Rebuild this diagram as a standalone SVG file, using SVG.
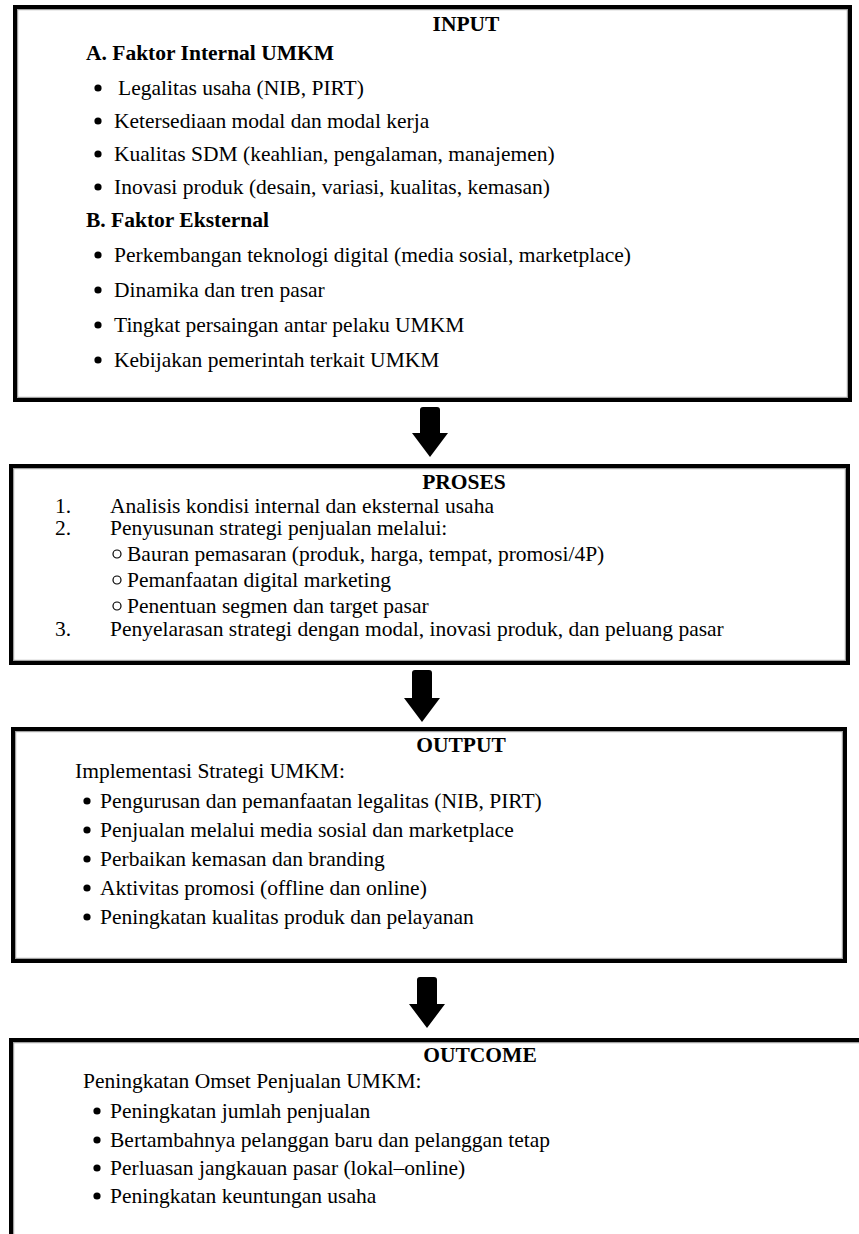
<svg xmlns="http://www.w3.org/2000/svg" width="859" height="1234" viewBox="0 0 859 1234">
<style>
  .box{fill:#fff;stroke:#000;stroke-width:4}
  .shade{fill:none;stroke:#a0a0a0;stroke-width:1.2}
  .t{font-family:"Liberation Serif","Times New Roman",serif;font-size:21.5px;fill:#000}
  .b{font-weight:bold}
  .c{text-anchor:middle}
  .dot{fill:#000}
  .ring{fill:none;stroke:#000;stroke-width:1.2}
  .arrow{fill:#000}
</style>
<rect width="859" height="1234" fill="#fff"/>

<g id="input">
  <rect class="box" x="15" y="7" width="835" height="393"/>
  <rect class="shade" x="17.6" y="9.6" width="829.8" height="387.8"/>
  <text class="t b c" x="466" y="31">INPUT</text>
  <text class="t b" x="86" y="60">A. Faktor Internal UMKM</text>
  <circle class="dot" cx="98" cy="88" r="3.6"/><text class="t" x="118" y="95">Legalitas usaha (NIB, PIRT)</text>
  <circle class="dot" cx="98" cy="121" r="3.6"/><text class="t" x="114" y="128">Ketersediaan modal dan modal kerja</text>
  <circle class="dot" cx="98" cy="154" r="3.6"/><text class="t" x="114" y="161">Kualitas SDM (keahlian, pengalaman, manajemen)</text>
  <circle class="dot" cx="98" cy="187" r="3.6"/><text class="t" x="114" y="194">Inovasi produk (desain, variasi, kualitas, kemasan)</text>
  <text class="t b" x="86" y="227">B. Faktor Eksternal</text>
  <circle class="dot" cx="98" cy="255" r="3.6"/><text class="t" x="114" y="262">Perkembangan teknologi digital (media sosial, marketplace)</text>
  <circle class="dot" cx="98" cy="290" r="3.6"/><text class="t" x="114" y="297">Dinamika dan tren pasar</text>
  <circle class="dot" cx="98" cy="325" r="3.6"/><text class="t" x="114" y="332">Tingkat persaingan antar pelaku UMKM</text>
  <circle class="dot" cx="98" cy="360" r="3.6"/><text class="t" x="114" y="367">Kebijakan pemerintah terkait UMKM</text>
</g>

<g id="proses">
  <rect class="box" x="11" y="466" width="837" height="197"/>
  <rect class="shade" x="13.6" y="468.6" width="831.8" height="191.8"/>
  <text class="t b c" x="464" y="489">PROSES</text>
  <text class="t" x="55" y="513">1.</text><text class="t" x="110" y="513">Analisis kondisi internal dan eksternal usaha</text>
  <text class="t" x="55" y="535">2.</text><text class="t" x="110" y="535">Penyusunan strategi penjualan melalui:</text>
  <circle class="ring" cx="117" cy="554" r="4"/><text class="t" x="127" y="561">Bauran pemasaran (produk, harga, tempat, promosi/4P)</text>
  <circle class="ring" cx="117" cy="580" r="4"/><text class="t" x="127" y="587">Pemanfaatan digital marketing</text>
  <circle class="ring" cx="117" cy="606" r="4"/><text class="t" x="127" y="613">Penentuan segmen dan target pasar</text>
  <text class="t" x="55" y="636">3.</text><text class="t" x="110" y="636">Penyelarasan strategi dengan modal, inovasi produk, dan peluang pasar</text>
</g>

<g id="output">
  <rect class="box" x="13" y="729" width="832" height="232"/>
  <rect class="shade" x="15.6" y="731.6" width="826.8" height="226.8"/>
  <text class="t b c" x="461" y="752">OUTPUT</text>
  <text class="t" x="75" y="778">Implementasi Strategi UMKM:</text>
  <circle class="dot" cx="87" cy="801" r="3.6"/><text class="t" x="100" y="808">Pengurusan dan pemanfaatan legalitas (NIB, PIRT)</text>
  <circle class="dot" cx="87" cy="830" r="3.6"/><text class="t" x="100" y="837">Penjualan melalui media sosial dan marketplace</text>
  <circle class="dot" cx="87" cy="859" r="3.6"/><text class="t" x="100" y="866">Perbaikan kemasan dan branding</text>
  <circle class="dot" cx="87" cy="888" r="3.6"/><text class="t" x="100" y="895">Aktivitas promosi (offline dan online)</text>
  <circle class="dot" cx="87" cy="917" r="3.6"/><text class="t" x="100" y="924">Peningkatan kualitas produk dan pelayanan</text>
</g>

<g id="outcome">
  <path d="M11,1236 V1040 H861" fill="none" stroke="#000" stroke-width="4"/>
  <path d="M13.6,1236 V1042.6 H861" fill="none" stroke="#a0a0a0" stroke-width="1.2"/>
  <text class="t b c" x="480" y="1062">OUTCOME</text>
  <text class="t" x="83" y="1088">Peningkatan Omset Penjualan UMKM:</text>
  <circle class="dot" cx="97" cy="1111" r="3.6"/><text class="t" x="110" y="1118">Peningkatan jumlah penjualan</text>
  <circle class="dot" cx="97" cy="1140" r="3.6"/><text class="t" x="110" y="1147">Bertambahnya pelanggan baru dan pelanggan tetap</text>
  <circle class="dot" cx="97" cy="1168" r="3.6"/><text class="t" x="110" y="1175">Perluasan jangkauan pasar (lokal–online)</text>
  <circle class="dot" cx="97" cy="1196" r="3.6"/><text class="t" x="110" y="1203">Peningkatan keuntungan usaha</text>
</g>

<g id="connectors">
  <path class="arrow" d="M423,407 H437 Q440,407 440,410 V433 H448 L430,457 L412,433 H420 V410 Q420,407 423,407 Z"/>
  <path class="arrow" d="M415,670 H429 Q432,670 432,673 V698 H440 L422,722 L404,698 H412 V673 Q412,670 415,670 Z"/>
  <path class="arrow" d="M420,977 H434 Q437,977 437,980 V1004 H445 L427,1028 L409,1004 H417 V980 Q417,977 420,977 Z"/>
</g>
</svg>
